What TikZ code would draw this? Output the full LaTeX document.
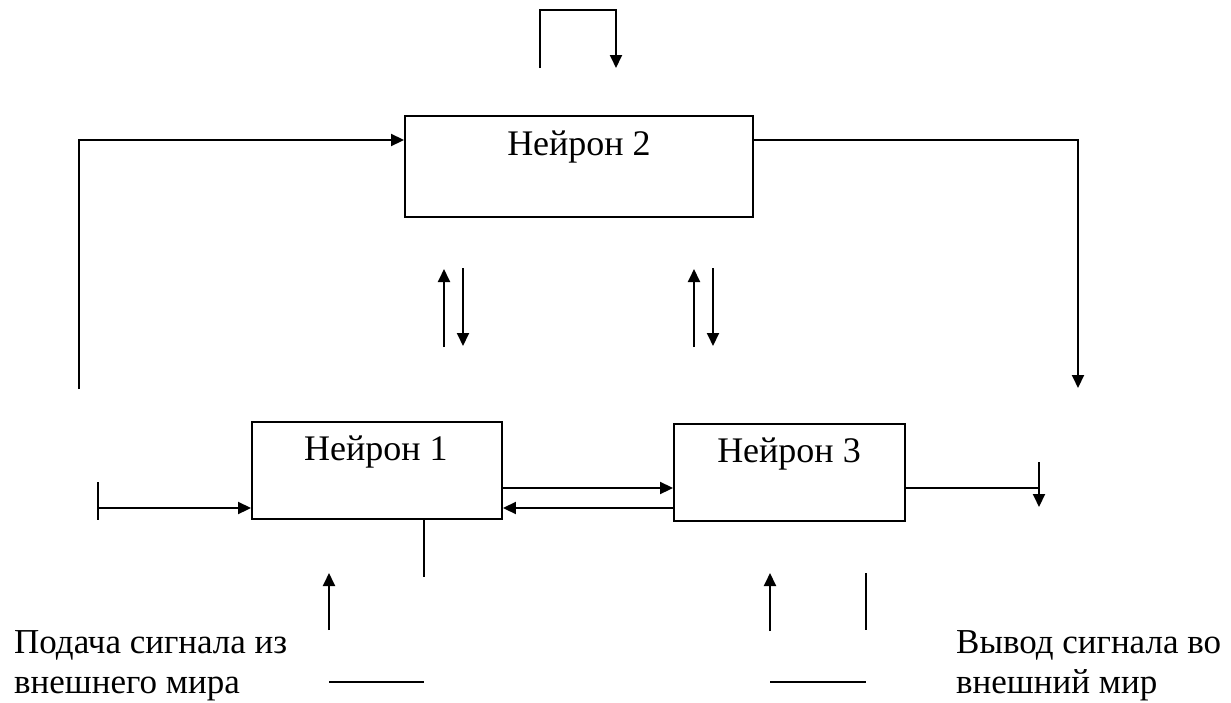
\documentclass[tikz,border=0pt]{standalone}
\usepackage{fontspec}
\setmainfont{Liberation Serif}
\usetikzlibrary{arrows.meta}
\begin{document}
\begin{tikzpicture}[x=1pt,y=-1pt,
  ln/.style={line width=1.9pt},
  arr/.style={ln,-{Triangle[length=13pt,width=12pt]}},
  boxn/.style={draw,line width=1.9pt,inner sep=0pt},
  lbl/.style={anchor=base,inner sep=0pt,font=\fontsize{36}{40}\selectfont},
  txt/.style={anchor=base west,inner sep=0pt,font=\fontsize{35}{40}\selectfont}]
\useasboundingbox (0,0) rectangle (1231,702);
% boxes
\node[boxn,minimum width=348pt,minimum height=101pt] (n2) at (579,166.5) {};
\node[boxn,minimum width=250pt,minimum height=97pt] (n1) at (377,470.5) {};
\node[boxn,minimum width=231pt,minimum height=97pt] (n3) at (789.5,472.5) {};
\node[lbl] (t2) at (579,155) {Нейрон 2};
\node[lbl] (t1) at (376,460) {Нейрон 1};
\node[lbl] (t3) at (789,462) {Нейрон 3};
% top loop
\coordinate (la) at (540,68);
\coordinate (lb) at (616,68);
\draw[arr] (la) -- (540,10) -| (lb);
% left feedback into neuron 2
\coordinate (fl) at (79,389);
\draw[arr] (fl) |- (n2.west |- 0,140);
% right output of neuron 2
\coordinate (fr) at (1078,388);
\draw[arr] (n2.east |- 0,140) -| (fr);
% vertical pairs
\coordinate (p1a) at (444,347); \coordinate (p1b) at (444,269);
\coordinate (p2a) at (463,268); \coordinate (p2b) at (463,346);
\coordinate (p3a) at (694,347); \coordinate (p3b) at (694,269);
\coordinate (p4a) at (713,268); \coordinate (p4b) at (713,346);
\draw[arr] (p1a) -- (p1b);
\draw[arr] (p2a) -- (p2b);
\draw[arr] (p3a) -- (p3b);
\draw[arr] (p4a) -- (p4b);
% between neuron 1 and 3
\draw[arr] (n1.east |- 0,488) -- (n3.west |- 0,488);
\draw[arr] (n3.west |- 0,508) -- (n1.east |- 0,508);
% left input
\coordinate (ba) at (98,482); \coordinate (bb) at (98,520);
\coordinate (in1) at (98,508);
\draw[ln] (ba) -- (bb);
\draw[arr] (in1) -- (n1.west |- in1);
% below neuron 1
\coordinate (d1) at (424,577);
\draw[ln] (n1.south -| d1) -- (d1);
\coordinate (u1a) at (329,630); \coordinate (u1b) at (329,573);
\draw[arr] (u1a) -- (u1b);
\coordinate (h1a) at (329,682); \coordinate (h1b) at (424,682);
\draw[ln] (h1a) -- (h1b);
% neuron 3 output
\coordinate (o3) at (1039,488);
\coordinate (v3a) at (1039,462); \coordinate (v3b) at (1039,507);
\draw[ln] (n3.east |- o3) -- (o3);
\draw[arr] (v3a) -- (v3b);
% below neuron 3
\coordinate (u3a) at (770,631); \coordinate (u3b) at (770,573);
\draw[arr] (u3a) -- (u3b);
\coordinate (w3a) at (866,573); \coordinate (w3b) at (866,630);
\draw[ln] (w3a) -- (w3b);
\coordinate (h3a) at (770,682); \coordinate (h3b) at (866,682);
\draw[ln] (h3a) -- (h3b);
% texts
\node[txt] (s1) at (14,653) {Подача сигнала из};
\node[txt] (s2) at (14,693) {внешнего мира};
\node[txt] (s3) at (956,653) {Вывод сигнала во};
\node[txt] (s4) at (956,693) {внешний мир};
\end{tikzpicture}
\end{document}
